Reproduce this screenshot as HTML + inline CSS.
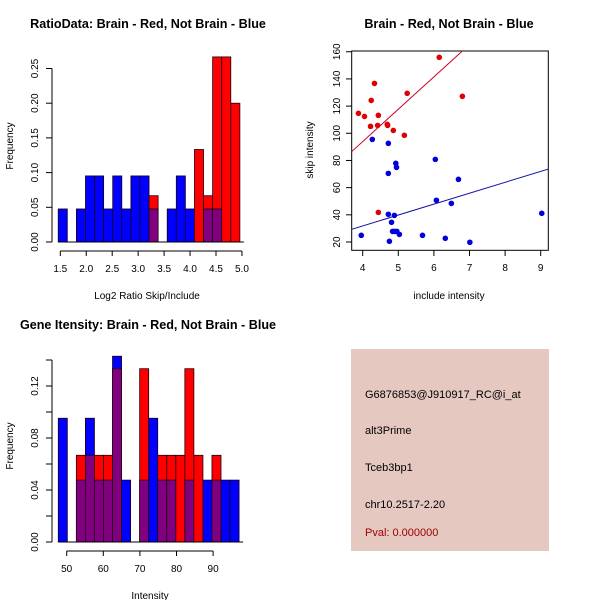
<!DOCTYPE html>
<html><head><meta charset="utf-8"><style>
html,body{margin:0;padding:0;background:#fff;}
svg{display:block;font-family:"Liberation Sans",sans-serif;}
</style></head><body>
<svg id="c" width="600" height="600" viewBox="0 0 600 600" xmlns="http://www.w3.org/2000/svg">
<rect width="600" height="600" fill="#fff"/>
<text x="148" y="28" font-size="12.6" font-weight="bold" text-anchor="middle">RatioData: Brain - Red, Not Brain - Blue</text>
<text x="449" y="28" font-size="12.6" font-weight="bold" text-anchor="middle">Brain - Red, Not Brain - Blue</text>
<text x="148" y="329" font-size="12.6" font-weight="bold" text-anchor="middle">Gene Itensity: Brain - Red, Not Brain - Blue</text>
<text x="147" y="299" font-size="10" text-anchor="middle">Log2 Ratio Skip/Include</text>
<text transform="translate(13,146) rotate(-90)" font-size="10" text-anchor="middle">Frequency</text>
<text x="449" y="299" font-size="10" text-anchor="middle">include intensity</text>
<text transform="translate(313,150) rotate(-90)" font-size="10" text-anchor="middle">skip intensity</text>
<text x="150" y="599" font-size="10" text-anchor="middle">Intensity</text>
<text transform="translate(13,446) rotate(-90)" font-size="10" text-anchor="middle">Frequency</text>
<g>
<rect x="351" y="349" width="198" height="202" fill="#e5c8c0"/>
<text x="365" y="398" font-size="11">G6876853@J910917_RC@i_at</text>
<text x="365" y="434" font-size="11">alt3Prime</text>
<text x="365" y="471" font-size="11">Tceb3bp1</text>
<text x="365" y="508" font-size="11">chr10.2517-2.20</text>
<text x="365" y="536" font-size="11" fill="#a00000">Pval: 0.000000</text>
</g>
</svg>
<script>
// Ratio histogram data
const ratioStart = 1.46, ratioBinW = 0.175;
const ratioBlue = [0.0476,0,0.0476,0.0952,0.0952,0.0476,0.0952,0.0476,0.0952,0.0952,0.0476,0,0.0476,0.0952,0.0476,0,0.0476,0.0476,0,0];
const ratioRed  = [0,0,0,0,0,0,0,0,0,0,0.0667,0,0,0,0,0.1333,0.0667,0.2667,0.2667,0.2];
const ratioXTicks = [1.5,2.0,2.5,3.0,3.5,4.0,4.5,5.0];
const ratioYTicks = [0.00,0.05,0.10,0.15,0.20,0.25];
// Intensity histogram data
const intStart = 47.7, intBinW = 2.47;
const intBlue = [0.0952,0,0.0476,0.0952,0.0476,0.0476,0.1429,0.0476,0,0.0476,0.0952,0.0476,0.0476,0,0.0476,0,0.0476,0.0476,0.0476,0.0476];
const intRed  = [0,0,0.0667,0.0667,0.0667,0.0667,0.1333,0,0,0.1333,0,0.0667,0.0667,0.0667,0.1333,0.0667,0,0.0667,0,0];
const intXTicks = [50,60,70,80,90];
const intYTicks = [0.00,0.02,0.04,0.06,0.08,0.10,0.12,0.14];
const intYLabels = ["0.00","","0.04","","0.08","","0.12",""];
// Scatter data
const redX = [3.88,4.05,4.33,4.24,4.22,4.44,4.42,4.69,4.70,4.86,5.17,5.25,6.15,6.80,4.44];
const redY = [114.7,112.4,136.7,124.2,105.1,113.2,105.8,106.6,105.8,102.1,98.5,129.4,155.9,127.2,41.8];
const blueX = [3.96,4.27,4.72,4.72,4.93,4.95,4.72,4.89,4.81,4.84,4.90,4.96,5.03,4.75,5.68,6.04,6.07,6.32,6.49,6.69,7.01,9.03];
const blueY = [24.9,95.5,92.6,70.5,77.9,74.9,40.4,39.6,34.5,27.8,27.8,27.8,25.6,20.5,24.9,80.8,50.7,22.7,48.4,66.1,19.8,41.1];
const redFit = [-1.3,23.8];
const blueFit = [-0.3,8.03];
const scXTicks = [4,5,6,7,8,9];
const scYTicks = [20,40,60,80,100,120,140,160];

const svg = document.getElementById('c');
const NS = 'http://www.w3.org/2000/svg';
function mk(tag, attrs, parent){const e=document.createElementNS(NS,tag);for(const k in attrs)e.setAttribute(k,attrs[k]);(parent||svg).appendChild(e);return e;}

function hist(name, start, bw, blue, red, xs, ys, yLabels, xTicks, yTicks) {
  const g = mk('g',{});
  
  
  for (let i=0;i<blue.length;i++){
    const x0=xs(start+i*bw), x1=xs(start+(i+1)*bw);
    const b=blue[i], r=red[i];
    const mx=Math.max(b,r), mn=Math.min(b,r);
    if (mx>0){
      const col = b>=r ? '#0000ff' : '#ff0000';
      const rr=mk('rect',{x:x0,y:ys(mx),width:x1-x0,height:ys(0)-ys(mx),fill:col,stroke:'#200010','stroke-width':0.8},g);
      
      
    }
    if (mn>0){
      const pr=mk('rect',{x:x0,y:ys(mn),width:x1-x0,height:ys(0)-ys(mn),fill:'#800080',stroke:'#200010','stroke-width':0.8},g);
      
      
    }
  }
  mk('line',{x1:xs(start),x2:xs(start+blue.length*bw)+4,y1:ys(0),y2:ys(0),stroke:'#000'},g);
  const yx = 52;
  mk('line',{x1:yx,x2:yx,y1:ys(yTicks[0]),y2:ys(yTicks[yTicks.length-1]),stroke:'#000'},g);
  yTicks.forEach((t,i)=>{
    mk('line',{x1:yx-6,x2:yx,y1:ys(t),y2:ys(t),stroke:'#000'},g);
    if (yLabels[i]){const tx=mk('text',{transform:`translate(${yx-14},${ys(t)}) rotate(-90)`,'font-size':10,'text-anchor':'middle'},g);tx.textContent=yLabels[i];}
  });
  const ay = ys(0)+9;
  mk('line',{x1:xs(xTicks[0]),x2:xs(xTicks[xTicks.length-1]),y1:ay,y2:ay,stroke:'#000'},g);
  xTicks.forEach(t=>{
    mk('line',{x1:xs(t),x2:xs(t),y1:ay,y2:ay+5,stroke:'#000'},g);
    const tx=mk('text',{x:xs(t),y:ay+21,'font-size':10,'text-anchor':'middle'},g);
    tx.textContent = Number.isInteger(t)&&t>10 ? String(t) : t.toFixed(1);
  });
}
const rX = v => 60.3 + (v-1.5)*51.9;
const rY = v => 242 - v*694;
hist('ratio-histogram', ratioStart, ratioBinW, ratioBlue, ratioRed, rX, rY,
  ratioYTicks.map(t=>t.toFixed(2)), ratioXTicks, ratioYTicks);
const iX = v => 66.7 + (v-50)*3.66;
const iY = v => 542 - v*1300;
hist('intensity-histogram', intStart, intBinW, intBlue, intRed, iX, iY, intYLabels, intXTicks, intYTicks);

const sX = v => 362.7 + (v-4)*35.6;
const sY = v => 242 - (v-20)*1.359;
const sg = mk('g',{});


const defs = mk('defs',{},sg);
const cp = mk('clipPath',{id:'scClip'},defs);
mk('rect',{x:351.7,y:51,width:196.6,height:199.3},cp);
mk('rect',{x:351.7,y:51,width:196.6,height:199.3,fill:'none',stroke:'#000'},sg);
scXTicks.forEach(t=>{
  mk('line',{x1:sX(t),x2:sX(t),y1:250.3,y2:256,stroke:'#000'},sg);
  const tx=mk('text',{x:sX(t),y:271,'font-size':10,'text-anchor':'middle'},sg);tx.textContent=t;
});
scYTicks.forEach(t=>{
  mk('line',{x1:346,x2:351.7,y1:sY(t),y2:sY(t),stroke:'#000'},sg);
  const tx=mk('text',{transform:`translate(340,${sY(t)}) rotate(-90)`,'font-size':10,'text-anchor':'middle'},sg);tx.textContent=t;
});
const x0=3.5,x1=9.5;
const rl=mk('line',{x1:sX(x0),y1:sY(redFit[0]+redFit[1]*x0),x2:sX(x1),y2:sY(redFit[0]+redFit[1]*x1),stroke:'#cc0022','stroke-width':1,'clip-path':'url(#scClip)'},sg);


const bl=mk('line',{x1:sX(x0),y1:sY(blueFit[0]+blueFit[1]*x0),x2:sX(x1),y2:sY(blueFit[0]+blueFit[1]*x1),stroke:'#1010a0','stroke-width':1,'clip-path':'url(#scClip)'},sg);


redX.forEach((x,i)=>{
  const c=mk('circle',{cx:sX(x),cy:sY(redY[i]),r:2.8,fill:'#e00000'},sg);
  
  
});
blueX.forEach((x,i)=>{
  const c=mk('circle',{cx:sX(x),cy:sY(blueY[i]),r:2.8,fill:'#0000dd'},sg);
  
  
});
</script>
</body></html>
